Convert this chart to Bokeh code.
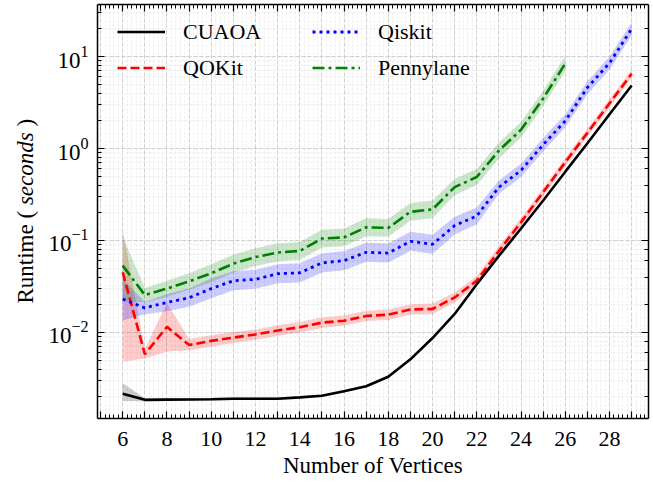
import math
from bokeh.plotting import figure
from bokeh.layouts import row
from bokeh.models import (Legend, LegendItem, LinearAxis, LogAxis, FixedTicker,
                          LogTicker, Label, Range1d, CustomJSTickFormatter)
from bokeh.embed import file_html
from bokeh.resources import INLINE

# ---------------- data ----------------
vertices = list(range(6, 30))
penny_vertices = list(range(6, 27))

cuaoa = [0.00215, 0.00185, 0.00186, 0.00187, 0.00188, 0.0019, 0.0019, 0.0019,
         0.00197, 0.00205, 0.0023, 0.0026, 0.0033, 0.0051, 0.0087, 0.0159,
         0.0335, 0.068, 0.135, 0.272, 0.56, 1.14, 2.36, 4.85]
cuaoa_low = [0.00180, 0.00179, 0.00180, 0.00181, 0.00182, 0.00184, 0.00184, 0.00184,
             0.00191, 0.00199, 0.00223, 0.00252, 0.0032, 0.00495, 0.00845, 0.0155,
             0.0326, 0.0662, 0.1315, 0.265, 0.546, 1.11, 2.3, 4.73]
cuaoa_high = [0.0028, 0.00192, 0.00192, 0.00193, 0.00194, 0.00196, 0.00196, 0.00196,
              0.00203, 0.00211, 0.00237, 0.00268, 0.0034, 0.00525, 0.00895, 0.0163,
              0.0344, 0.0698, 0.1385, 0.279, 0.574, 1.17, 2.42, 4.97]

qokit = [0.045, 0.0058, 0.0115, 0.0073, 0.0081, 0.0088, 0.0095, 0.0105,
         0.0114, 0.0128, 0.0134, 0.0151, 0.0156, 0.0178, 0.0180, 0.0240,
         0.0366, 0.077, 0.158, 0.335, 0.71, 1.48, 3.1, 6.5]
qokit_low = [0.0048, 0.0052, 0.0062, 0.0064, 0.0070, 0.0077, 0.0083, 0.0092,
             0.0100, 0.0112, 0.0118, 0.0133, 0.0137, 0.0157, 0.0158, 0.0212,
             0.0325, 0.069, 0.142, 0.302, 0.64, 1.34, 2.8, 5.9]
qokit_high = [0.13, 0.0066, 0.021, 0.0085, 0.0093, 0.0101, 0.0108, 0.0120,
              0.0130, 0.0146, 0.0153, 0.0172, 0.0178, 0.0203, 0.0206, 0.0272,
              0.0412, 0.087, 0.176, 0.372, 0.79, 1.64, 3.45, 7.2]

qiskit = [0.0231, 0.0185, 0.0212, 0.0238, 0.030, 0.0365, 0.0378, 0.0435,
          0.0445, 0.057, 0.0604, 0.0744, 0.073, 0.098, 0.091, 0.145,
          0.185, 0.38, 0.58, 1.1, 2.0, 4.6, 8.5, 20.0]
qiskit_low = [0.0135, 0.0158, 0.0170, 0.0190, 0.0236, 0.0287, 0.0298, 0.0343,
              0.0350, 0.0449, 0.0476, 0.0586, 0.0575, 0.0772, 0.0717, 0.116,
              0.150, 0.322, 0.49, 0.93, 1.70, 3.9, 7.2, 17.0]
qiskit_high = [0.038, 0.0215, 0.0262, 0.0300, 0.0385, 0.0464, 0.0480, 0.0552,
               0.0565, 0.0724, 0.0767, 0.0945, 0.0927, 0.1245, 0.1156, 0.181,
               0.228, 0.448, 0.685, 1.30, 2.36, 5.4, 10.0, 23.6]

pennylane = [0.0533, 0.0255, 0.030, 0.036, 0.044, 0.056, 0.066, 0.074,
             0.077, 0.105, 0.108, 0.139, 0.137, 0.205, 0.218, 0.38,
             0.49, 0.95, 1.6, 3.5, 8.4]
pennylane_low = [0.022, 0.0212, 0.0245, 0.0292, 0.0352, 0.0448, 0.0528, 0.0592,
                 0.0616, 0.084, 0.0864, 0.111, 0.110, 0.164, 0.174, 0.31,
                 0.40, 0.78, 1.32, 2.9, 6.9]
pennylane_high = [0.11, 0.0305, 0.0365, 0.0440, 0.0550, 0.0700, 0.0825, 0.0925,
                  0.0963, 0.131, 0.135, 0.174, 0.171, 0.256, 0.272, 0.47,
                  0.60, 1.16, 1.94, 4.25, 10.2]

x_major_ticks = list(range(5, 30))
x_tick_labels = {v: (str(v) if v % 2 == 0 else "") for v in x_major_ticks}

# ---------------- layout ----------------
X0, X1 = 4.86, 29.76
Y0, Y1 = 1.16e-3, 36.8
TOTAL_W, H = 653, 485
LW = 44                      # width of the strip holding the y-axis title
W = TOTAL_W - LW
BL, BR, BT, BB = 97 - LW, 5, 4, 67
FONT = "Liberation Serif"

p = figure(width=W, height=H, x_range=Range1d(X0, X1), y_range=Range1d(Y0, Y1),
           y_axis_type="log", output_backend="svg", toolbar_location=None,
           min_border_left=BL, min_border_right=BR, min_border_top=BT,
           min_border_bottom=BB, outline_line_color=None,
           background_fill_color="white", border_fill_color="white")
FH = H - BT - BB

minor_x = [round(4.8 + 0.2 * i, 1) for i in range(0, 126)]
xticker = FixedTicker(ticks=x_major_ticks, minor_ticks=minor_x)
p.xaxis.ticker = xticker
p.xgrid.ticker = xticker
p.xaxis.major_label_overrides = x_tick_labels

top_ax = LinearAxis(ticker=xticker, formatter=CustomJSTickFormatter(code="return ''"))
right_ax = LogAxis(ticker=LogTicker(), formatter=CustomJSTickFormatter(code="return ''"))
p.add_layout(top_ax, "above")
p.add_layout(right_ax, "right")


def style_axis(ax, size="22px", labels=True):
    ax.axis_line_width = 1.5
    ax.axis_line_color = "black"
    ax.major_tick_in = 7
    ax.major_tick_out = 0
    ax.minor_tick_in = 4
    ax.minor_tick_out = 0
    ax.major_tick_line_width = 1.2
    ax.minor_tick_line_width = 1
    ax.major_tick_line_color = "black"
    ax.minor_tick_line_color = "black"
    ax.major_label_text_font = FONT
    ax.major_label_text_color = "black"
    if labels:
        ax.major_label_text_font_size = size
    else:
        ax.major_label_text_font_size = "1px"
        ax.major_label_standoff = 0


for ax in p.xaxis:
    style_axis(ax, "22px")
for ax in p.yaxis:
    style_axis(ax, "23px")
style_axis(top_ax, labels=False)
style_axis(right_ax, labels=False)

bottom = p.below[0]
bottom.major_label_standoff = 13
bottom.axis_label = "Number of Vertices"
bottom.axis_label_text_font = FONT
bottom.axis_label_text_font_size = "23px"
bottom.axis_label_text_font_style = "normal"
bottom.axis_label_text_color = "black"
bottom.axis_label_standoff = 4
p.left[0].major_label_standoff = 9

for g in (p.xgrid, p.ygrid):
    g.grid_line_color = "#cfcfcf"
    g.grid_line_dash = "4 2"
    g.grid_line_width = 1
    g.minor_grid_line_color = "#ebebeb"
    g.minor_grid_line_dash = "2 2"
    g.minor_grid_line_width = 1

# ---------------- bands and lines ----------------
p.varea(x=vertices, y1=cuaoa_low, y2=cuaoa_high, fill_color="black", fill_alpha=0.2)
p.varea(x=vertices, y1=qokit_low, y2=qokit_high, fill_color="red", fill_alpha=0.2)
p.varea(x=vertices, y1=qiskit_low, y2=qiskit_high, fill_color="blue", fill_alpha=0.2)
p.varea(x=penny_vertices, y1=pennylane_low, y2=pennylane_high, fill_color="green", fill_alpha=0.2)

r_c = p.line(vertices, cuaoa, line_color="black", line_width=2.6)
r_q = p.line(vertices, qokit, line_color="red", line_width=2.6, line_dash="9 4")
r_k = p.line(vertices, qiskit, line_color="blue", line_width=2.8, line_dash="3 4")
r_p = p.line(penny_vertices, pennylane, line_color="green", line_width=2.6, line_dash="12 4 3 4")

ROW_H, ROW_GAP = 25, 10
leg_top = 16.5
leg_h = 2 * ROW_H + ROW_GAP
legend = Legend(items=[LegendItem(label="CUAOA", renderers=[r_c]),
                       LegendItem(label="QOKit", renderers=[r_q]),
                       LegendItem(label="Qiskit", renderers=[r_k]),
                       LegendItem(label="Pennylane", renderers=[r_p])],
                location=(20, FH - leg_top - leg_h), orientation="vertical", nrows=2,
                margin=0, padding=0, spacing=ROW_GAP,
                glyph_width=48, glyph_height=ROW_H, label_height=ROW_H, label_width=119,
                label_standoff=18, label_text_font=FONT, label_text_font_size="22px",
                label_text_color="black",
                border_line_alpha=0, background_fill_alpha=0)
p.add_layout(legend)

# ---------------- y-axis title strip (mixed upright / italic text) ----------------
# Its frame is given the same top/bottom borders as the main plot (Bokeh aligns
# frames in a row), and its y range is "pixels from the bottom of the figure".
lab = figure(width=LW, height=H, x_range=Range1d(0, LW), y_range=Range1d(BB, H - BT),
             output_backend="svg", toolbar_location=None,
             x_axis_location=None, y_axis_location=None,
             min_border=0, min_border_left=0, min_border_right=0,
             min_border_top=BT, min_border_bottom=BB, outline_line_color=None,
             background_fill_color="white", border_fill_color="white")
lab.xgrid.visible = False
lab.ygrid.visible = False

LBL = "23px"
FS = 23.0
base_x = 25                    # baseline of the rotated text, px from the left
start = H - 303                # bottom end of "Runtime", px from the bottom
w_runtime = 4.028 * FS         # "Runtime (" in Times metrics
w_seconds = 3.166 * FS         # italic "seconds"
w_space = 0.25 * FS
y_sec = start + w_runtime + w_space
y_close = y_sec + w_seconds + w_space
for txt, yy, style in (("Runtime (", start, "normal"),
                       ("seconds", y_sec, "italic"),
                       (")", y_close, "normal")):
    lab.add_layout(Label(x=base_x, y=yy, text=txt, angle=math.pi / 2,
                         text_align="left", text_baseline="alphabetic", text_font=FONT,
                         text_font_size=LBL, text_font_style=style, text_color="black"))

layout = row(lab, p)
open("out.html", "w").write(file_html(layout, INLINE))
